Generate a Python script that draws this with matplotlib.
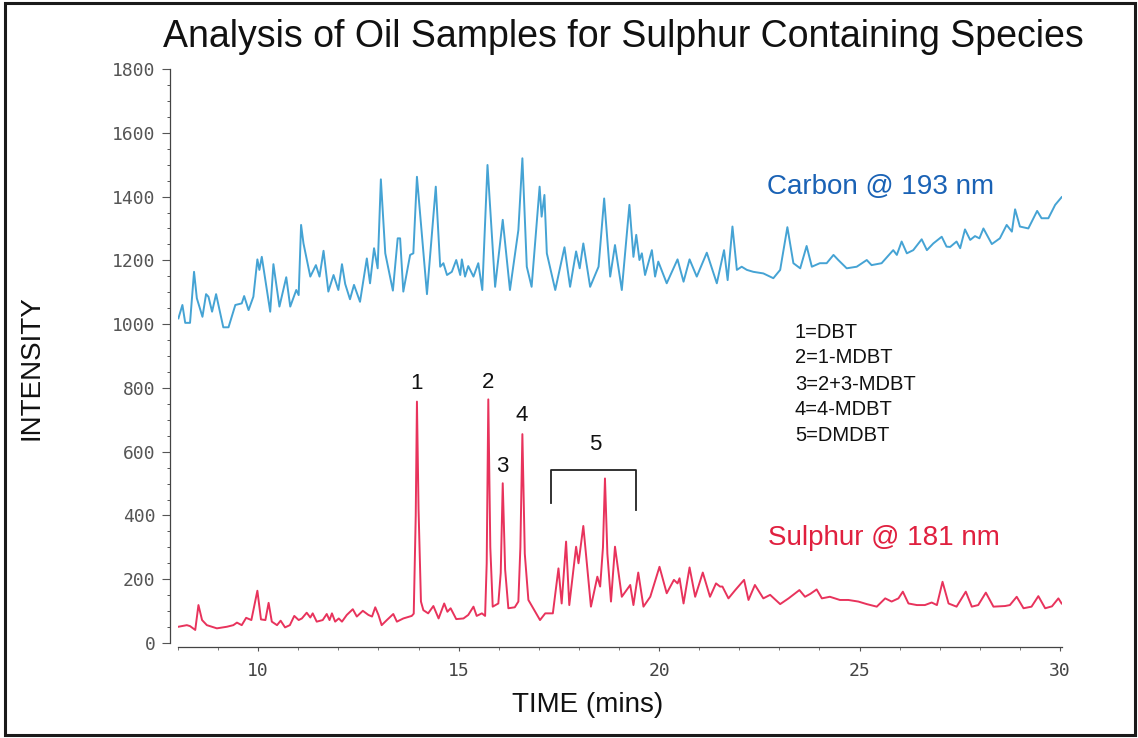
import matplotlib
matplotlib.use("Agg")
import matplotlib.pyplot as plt
from matplotlib.patches import Rectangle
from matplotlib.ticker import MultipleLocator, FixedLocator

# ---------------- data ----------------
carbon_t = [8.01, 8.11, 8.18, 8.30, 8.40, 8.47, 8.61, 8.70, 8.76, 8.85, 8.95, 9.13, 9.26, 9.43,
            9.59, 9.65, 9.76, 9.88, 9.98, 10.03, 10.09, 10.30, 10.38, 10.53, 10.70, 10.80, 10.95,
            11.01, 11.07, 11.13, 11.30, 11.44, 11.53, 11.63, 11.75, 11.88, 12.00, 12.09, 12.17,
            12.29, 12.39, 12.54, 12.71, 12.79, 12.89, 12.98, 13.06, 13.17, 13.36, 13.48, 13.54,
            13.62, 13.79, 13.87, 13.96, 14.21, 14.43, 14.54, 14.62, 14.71, 14.83, 14.94, 15.04,
            15.08, 15.16, 15.24, 15.37, 15.49, 15.59, 15.72, 15.91, 16.10, 16.28, 16.49, 16.59,
            16.70, 16.82, 17.02, 17.07, 17.14, 17.20, 17.41, 17.64, 17.78, 17.93, 18.02, 18.11,
            18.28, 18.49, 18.63, 18.78, 18.90, 19.07, 19.26, 19.36, 19.43, 19.51, 19.57, 19.65,
            19.82, 19.90, 19.98, 20.19, 20.46, 20.61, 20.76, 20.94, 21.19, 21.44, 21.62, 21.71,
            21.83, 21.94, 22.06, 22.19, 22.35, 22.60, 22.85, 23.02, 23.20, 23.35, 23.52, 23.68,
            23.81, 24.01, 24.18, 24.35, 24.47, 24.68, 24.93, 25.18, 25.30, 25.55, 25.84, 25.93,
            26.05, 26.18, 26.34, 26.55, 26.68, 26.84, 27.05, 27.17, 27.26, 27.42, 27.51, 27.63,
            27.76, 27.88, 27.99, 28.09, 28.30, 28.50, 28.67, 28.80, 28.88, 29.00, 29.21, 29.43,
            29.54, 29.71, 29.88, 30.04]
carbon_v = [1018, 1060, 1004, 1004, 1164, 1081, 1023, 1094, 1086, 1039, 1094, 990, 990, 1060,
            1065, 1088, 1044, 1086, 1203, 1170, 1211, 1039, 1188, 1055, 1147, 1055, 1107,
            1091, 1311, 1253, 1149, 1185, 1149, 1230, 1102, 1154, 1107, 1188, 1126,
            1078, 1123, 1070, 1206, 1128, 1238, 1175, 1454, 1222, 1105, 1269, 1269,
            1102, 1217, 1222, 1462, 1094, 1431, 1180, 1191, 1154, 1164, 1201, 1154,
            1203, 1149, 1182, 1149, 1191, 1107, 1499, 1117, 1327, 1107, 1295, 1520,
            1180, 1117, 1431, 1337, 1405, 1222, 1107, 1241, 1117, 1228, 1175, 1253,
            1117, 1180, 1394, 1149, 1248, 1107, 1374, 1211, 1280, 1201, 1222, 1154,
            1232, 1149, 1196, 1128, 1203, 1133, 1203, 1149, 1224, 1128, 1232, 1138,
            1306, 1170, 1180, 1170, 1164, 1159, 1144, 1170, 1304, 1191, 1175, 1245,
            1180, 1191, 1191, 1217, 1201, 1175, 1180, 1201, 1185, 1191, 1232, 1217,
            1259, 1222, 1232, 1266, 1232, 1253, 1274, 1243, 1242, 1259, 1238, 1297,
            1264, 1276, 1269, 1300, 1251, 1269, 1311, 1290, 1360, 1306, 1300, 1355,
            1332, 1332, 1374, 1398]

sulphur_t = [8.01, 8.22, 8.30, 8.43, 8.51, 8.60, 8.72, 8.97, 9.22, 9.38, 9.47, 9.59, 9.70, 9.83,
             9.98, 10.07, 10.18, 10.26, 10.34, 10.47, 10.56, 10.67, 10.79, 10.90, 11.01, 11.09,
             11.21, 11.30, 11.36, 11.46, 11.61, 11.71, 11.78, 11.84, 11.92, 12.01, 12.09, 12.21,
             12.36, 12.46, 12.61, 12.75, 12.84, 12.92, 13.00, 13.08, 13.21, 13.37, 13.46, 13.62,
             13.83, 13.88, 13.93, 13.96, 14.00, 14.06, 14.12, 14.24, 14.37, 14.50, 14.64, 14.72,
             14.80, 14.94, 15.12, 15.24, 15.37, 15.45, 15.58, 15.66, 15.70, 15.74, 15.79, 15.85,
             15.99, 16.05, 16.10, 16.16, 16.24, 16.40, 16.49, 16.54, 16.59, 16.65, 16.74, 16.91,
             17.03, 17.16, 17.35, 17.49, 17.57, 17.68, 17.76, 17.93, 17.99, 18.11, 18.30, 18.46,
             18.53, 18.60, 18.65, 18.71, 18.80, 18.90, 19.07, 19.28, 19.36, 19.48, 19.61, 19.78,
             20.01, 20.19, 20.37, 20.46, 20.51, 20.61, 20.76, 20.90, 21.09, 21.27, 21.42, 21.52,
             21.58, 21.73, 21.90, 22.12, 22.23, 22.39, 22.60, 22.77, 23.02, 23.23, 23.50, 23.64,
             23.77, 23.93, 24.06, 24.26, 24.51, 24.72, 24.97, 25.18, 25.43, 25.64, 25.80, 25.97,
             26.08, 26.22, 26.43, 26.63, 26.80, 26.93, 27.07, 27.22, 27.42, 27.65, 27.80, 27.96,
             28.15, 28.34, 28.63, 28.75, 28.92, 29.09, 29.29, 29.46, 29.63, 29.80, 29.96, 30.04]
sulphur_v = [51, 56, 53, 41, 119, 72, 56, 46, 51, 56, 64, 56, 79, 72,
             164, 74, 72, 126, 67, 56, 70, 49, 56, 85, 72, 77,
             95, 80, 93, 67, 72, 91, 72, 93, 67, 77, 67, 88,
             106, 83, 101, 88, 83, 112, 88, 56, 72, 91, 67, 77,
             85, 92, 400, 757, 420, 130, 103, 93, 116, 77, 124, 98,
             109, 75, 77, 88, 114, 85, 93, 85, 250, 764, 300, 114,
             124, 220, 501, 230, 109, 112, 130, 300, 655, 280, 135, 98,
             72, 93, 93, 234, 124, 318, 119, 302, 250, 367, 114, 208,
             177, 300, 516, 280, 130, 302, 145, 182, 119, 221, 114, 145,
             239, 156, 198, 187, 203, 124, 237, 145, 221, 145, 187, 177,
             177, 140, 166, 198, 135, 182, 140, 151, 122, 140, 166, 145,
             154, 168, 140, 145, 135, 135, 130, 122, 114, 140, 130, 140,
             161, 124, 119, 119, 127, 119, 192, 124, 114, 161, 114, 119,
             158, 114, 116, 119, 145, 109, 114, 147, 109, 115, 140, 124]

peak_labels = ["1", "2", "3", "4", "5"]
peak_label_t = [13.96, 15.74, 16.10, 16.58, 18.40]
peak_label_v = [815, 818, 552, 712, 621]

compounds = ["1=DBT", "2=1-MDBT", "3=2+3-MDBT", "4=4-MDBT", "5=DMDBT"]

y_ticks = [0, 200, 400, 600, 800, 1000, 1200, 1400, 1600, 1800]
x_ticks = [10, 15, 20, 25, 30]

# ---------------- figure ----------------
W, H = 1138, 738
fig = plt.figure(figsize=(W / 100, H / 100), dpi=100)
fig.patch.set_facecolor("white")

# outer frame
fig.patches.append(Rectangle((5 / W, 3 / H), 1130 / W, 732 / H, transform=fig.transFigure,
                             fill=False, edgecolor="#1a1a1a", linewidth=2.2, zorder=0))

ax = fig.add_axes([178 / W, 91 / H, (1062 - 178) / W, (669 - 91) / H])
ax.set_xlim(8, 30.05)
ax.set_ylim(-12.5, 1800)

ax.plot(carbon_t, carbon_v, color="#45a3d4", lw=1.4, solid_joinstyle="round")
ax.plot(sulphur_t, sulphur_v, color="#e8335c", lw=1.4, solid_joinstyle="round")

# spines
for s in ("top", "right"):
    ax.spines[s].set_visible(False)
ax.spines["left"].set_position(("outward", 6))
ax.spines["left"].set_bounds(0, 1800)
ax.spines["left"].set_color("#444444")
ax.spines["bottom"].set_color("#444444")
ax.spines["left"].set_linewidth(0.9)
ax.spines["bottom"].set_linewidth(0.9)

ax.yaxis.set_major_locator(FixedLocator(y_ticks))
ax.yaxis.set_minor_locator(MultipleLocator(50))
ax.xaxis.set_major_locator(FixedLocator(x_ticks))
ax.xaxis.set_minor_locator(MultipleLocator(1))

tick_font = {"family": "DejaVu Sans Mono", "size": 13}
ax.set_yticklabels([str(v) for v in y_ticks], fontdict=tick_font, color="#555555")
ax.set_xticklabels([str(v) for v in x_ticks], fontdict=tick_font, color="#444444")
ax.tick_params(axis="y", which="major", direction="out", length=5.8, width=0.8,
               color="#555555", pad=4.5)
ax.tick_params(axis="y", which="minor", direction="out", length=2.2, width=0.7, color="#555555")
ax.tick_params(axis="x", which="major", direction="out", length=3, width=0.8,
               color="#555555", pad=8)
ax.tick_params(axis="x", which="minor", direction="out", length=2, width=0.7, color="#777777")

# bracket for peak group 5
ax.plot([17.31, 17.31, 19.43, 19.43], [438, 543, 543, 417], color="#222222", lw=1.3)

# peak labels
for lab, t, v in zip(peak_labels, peak_label_t, peak_label_v):
    ax.text(t, v, lab, ha="center", va="center", fontsize=16, family="Liberation Sans",
            color="#111111")

# compound legend
comp_v = [975, 894, 812, 731, 652]
for txt, v in zip(compounds, comp_v):
    ax.text(23.39, v, txt, ha="left", va="center", fontsize=14.5, family="Liberation Sans",
            color="#111111")

# trace labels
ax.text(22.69, 1430, "Carbon @ 193 nm", ha="left", va="center", fontsize=20,
        family="Liberation Sans", color="#1a62b5")
ax.text(22.72, 329, "Sulphur @ 181 nm", ha="left", va="center", fontsize=20,
        family="Liberation Sans", color="#e0203f")

# titles
fig.text(623 / W, 1 - 37 / H, "Analysis of Oil Samples for Sulphur Containing Species",
         ha="center", va="center", fontsize=27, family="Liberation Sans", color="#111111")
fig.text(588 / W, 1 - 705 / H, "TIME (mins)", ha="center", va="center", fontsize=20,
         family="Liberation Sans", color="#111111")
fig.text(32 / W, 1 - 368 / H, "INTENSITY", ha="center", va="center", rotation=90,
         fontsize=20, family="Liberation Sans", color="#111111")

fig.savefig("out.png", dpi=100, facecolor="white")
